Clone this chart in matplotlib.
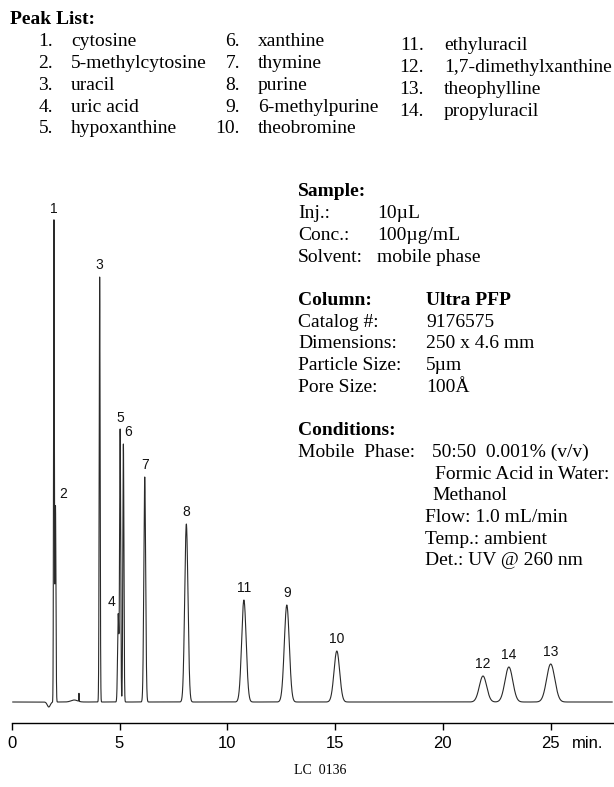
import numpy as np
import matplotlib
matplotlib.use("Agg")
import matplotlib.pyplot as plt

# peak table (retention time in min, height and width in detector units)
peak_ids = [1, 2, 3, 4, 5, 6, 7, 8, 9, 10, 11, 12, 13, 14]
peak_times = [1.96, 2.03, 4.08, 4.94, 5.03, 5.18, 6.17, 8.1, 12.76, 15.08, 10.77, 21.86, 25.0, 23.06]
peak_heights = [481, 196, 425, 88, 272, 258, 225, 178, 97, 51, 102, 26, 38, 35]
peak_sigmas = [0.018, 0.022, 0.022, 0.03, 0.025, 0.025, 0.042, 0.075, 0.115, 0.13, 0.105, 0.17, 0.19, 0.18]

# small baseline disturbances (dip before void, injection blip)
blip_times = [1.72, 3.12, 2.9]
blip_heights = [-5, 8, 2]
blip_sigmas = [0.07, 0.008, 0.15]

compounds = ["cytosine", "5-methylcytosine", "uracil", "uric acid", "hypoxanthine",
             "xanthine", "thymine", "purine", "6-methylpurine", "theobromine",
             "ethyluracil", "1,7-dimethylxanthine", "theophylline", "propyluracil"]

x_ticks = [0, 5, 10, 15, 20, 25]

W, H = 614, 787
fig = plt.figure(figsize=(W / 100, H / 100), dpi=100)
serif = "Liberation Serif"
sans = "Liberation Sans"


def ftext(x, y, s, **kw):
    kw.setdefault("family", serif)
    kw.setdefault("fontsize", 14)
    kw.setdefault("va", "center")
    fig.text(x / W, 1 - y / H, s, **kw)


# ---- peak list ----
ftext(10, 20, "Peak List:", weight="bold")
cols = [(53, 71, 42), (240, 258, 42), (424, 444, 46)]
row_h = 21.7
for i, name in enumerate(compounds):
    c = 0 if i < 5 else (1 if i < 10 else 2)
    r = i if c == 0 else (i - 5 if c == 1 else i - 10)
    nx, tx, y0 = cols[c]
    ftext(nx, y0 + r * row_h, "%d." % (i + 1), ha="right")
    ftext(tx, y0 + r * row_h, name)

# ---- method info ----
info = [
    ("Sample:", None, True),
    ("Inj.:", "10µL", False),
    ("Conc.:", "100µg/mL", False),
    ("Solvent:", "mobile phase", False),
    None,
    ("Column:", "Ultra PFP", True),
    ("Catalog #:", "9176575", False),
    ("Dimensions:", "250 x 4.6 mm", False),
    ("Particle Size:", "5µm", False),
    ("Pore Size:", "100Å", False),
    None,
    ("Conditions:", None, True),
    ("Mobile  Phase:", "50:50  0.001% (v/v)", False),
]
y = 192
for item in info:
    if item is not None:
        lab, val, bold = item
        w = "bold" if bold else "normal"
        ftext(298, y, lab, weight=w)
        if val is not None:
            vx = 377 if y < 270 else 426
            if lab.startswith("Mobile"):
                vx = 432
            ftext(vx, y, val, weight=w)
    y += row_h
ftext(435, y, "Formic Acid in Water:")
y += row_h
ftext(432, y, "Methanol")
for s in ["Flow: 1.0 mL/min", "Temp.: ambient", "Det.: UV @ 260 nm"]:
    y += row_h
    ftext(425, y, s)

# ---- chromatogram ----
x0_px, axis_px, base_px, top_px = 11.7, 723, 702, 200
px_per_min = 21.56
ax = fig.add_axes([x0_px / W, 1 - axis_px / H, (W - x0_px) / W, (axis_px - top_px) / H])
ax.set_xlim(0, (W - x0_px) / px_per_min)
ax.set_ylim(-(axis_px - base_px), base_px - top_px)

t = np.linspace(0.05, 27.85, 40000)
sig = np.zeros_like(t)
for rt, h, s in zip(peak_times, peak_heights, peak_sigmas):
    sig += h * np.exp(-0.5 * ((t - rt) / s) ** 2)
for rt, h, s in zip(blip_times, blip_heights, blip_sigmas):
    sig += h * np.exp(-0.5 * ((t - rt) / s) ** 2)
ax.plot(t, sig, color="#2a2a2a", lw=0.8)

# peak numbers
nudge = {2: (0.36, 0), 4: (-0.3, 0), 6: (0.2, 0)}
for pid, rt, h in zip(peak_ids, peak_times, peak_heights):
    dx, dy = nudge.get(pid, (0, 0))
    ax.text(rt + dx, h + 12 + dy, str(pid), ha="center", va="center",
            family=sans, fontsize=10, color="#111111")

for side in ["left", "right", "top"]:
    ax.spines[side].set_visible(False)
ax.spines["bottom"].set_linewidth(1.0)
ax.set_yticks([])
ax.set_xticks(x_ticks)
ax.set_xticklabels([str(v) for v in x_ticks], family=sans, fontsize=12)
ax.tick_params(axis="x", direction="out", length=5, width=1, pad=4)
ax.patch.set_alpha(0)

fig.canvas.draw()
lab25 = ax.get_xticklabels()[-1]
bb = lab25.get_window_extent()
fig.text((bb.x1 + 12) / W, (bb.y0 + bb.y1) / 2 / H, "min.", ha="left", va="center",
         family=sans, fontsize=12)

ftext(320, 770, "LC  0136", ha="center", fontsize=10)

fig.savefig("out.png", dpi=100)
